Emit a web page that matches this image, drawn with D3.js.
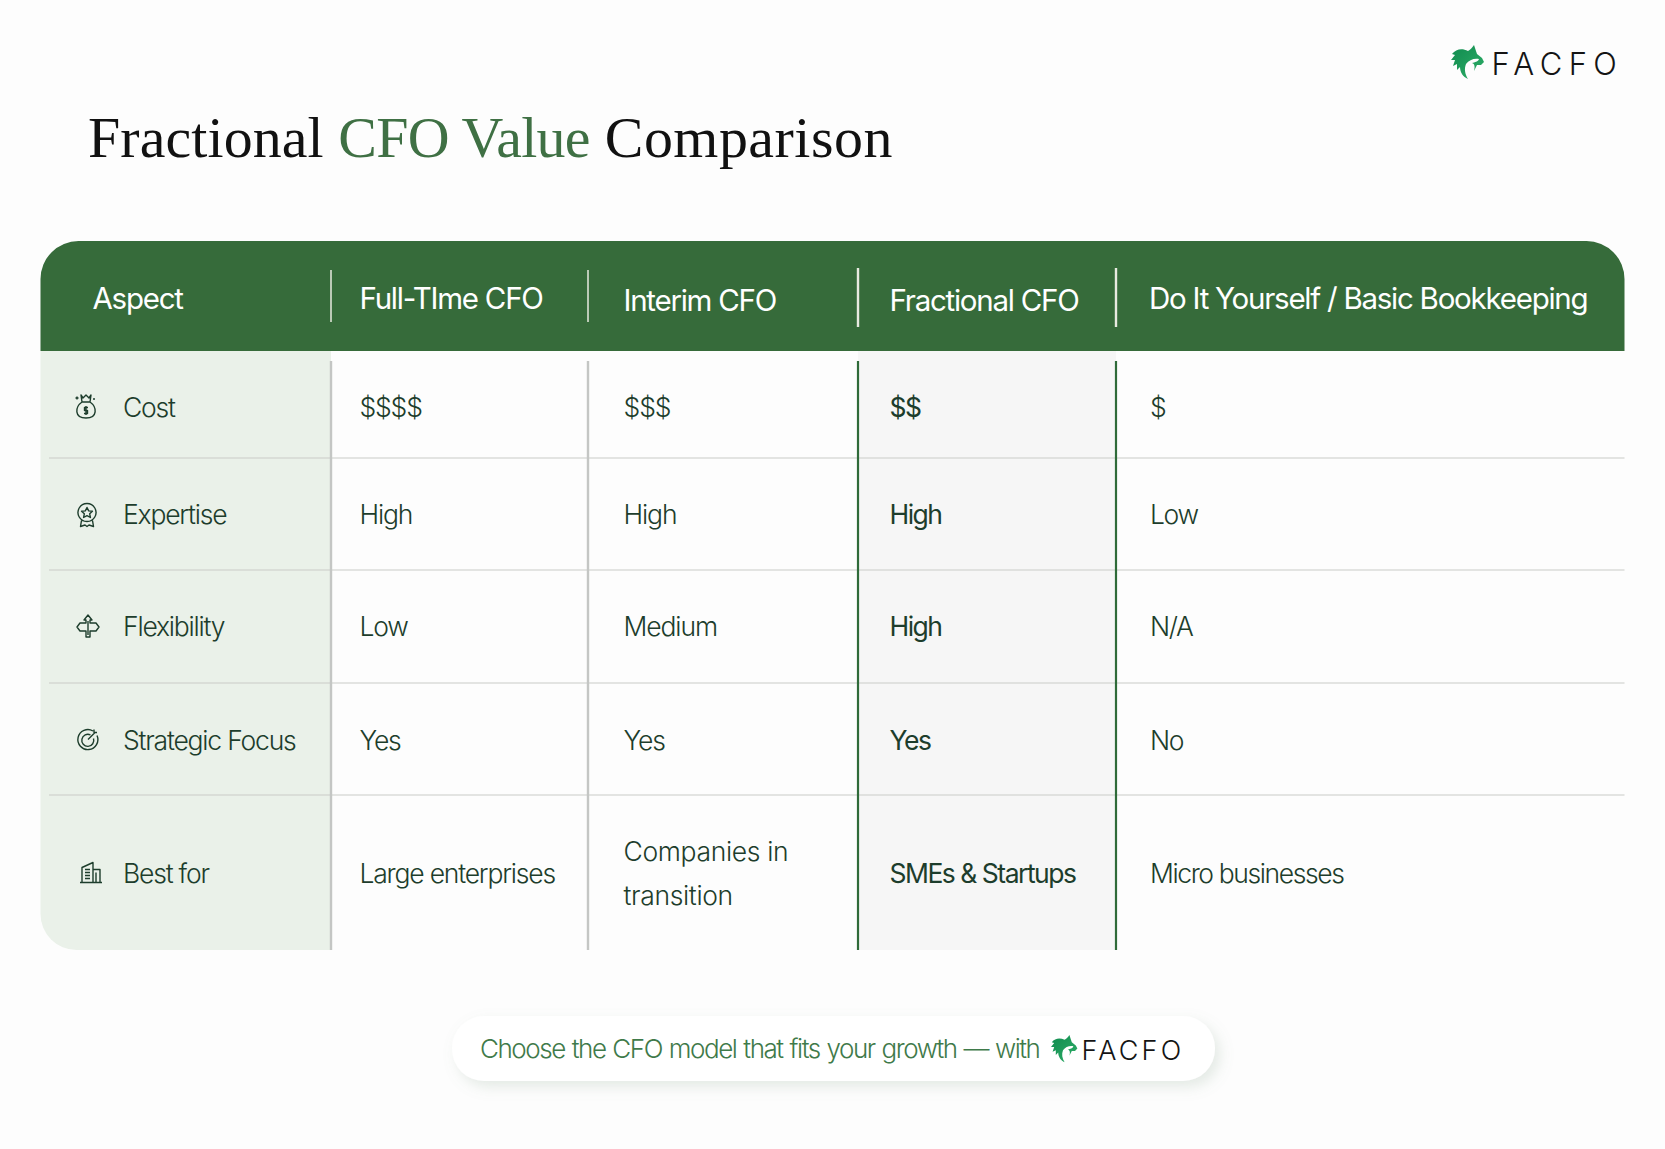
<!DOCTYPE html>
<html>
<head>
<meta charset="utf-8">
<script src="https://cdn.jsdelivr.net/npm/d3@7"></script>
<style>
  html, body { margin: 0; padding: 0; background: #fdfdfd; }
  svg { display: block; }
  text { font-family: Inter, "Noto Sans", sans-serif; }
</style>
</head>
<body>
<div id="chart"></div>
<script>
// table content
const titleParts = ["Fractional ", "CFO Value", " Comparison"];
const columns = ["Aspect", "Full-TIme CFO", "Interim CFO", "Fractional CFO", "Do It Yourself / Basic Bookkeeping"];
const aspects = ["Cost", "Expertise", "Flexibility", "Strategic Focus", "Best for"];
const fullTime = ["$$$$", "High", "Low", "Yes", "Large enterprises"];
const interim = ["$$$", "High", "Medium", "Yes", "Companies in\ntransition"];
const fractional = ["$$", "High", "High", "Yes", "SMEs & Startups"];
const diy = ["$", "Low", "N/A", "No", "Micro businesses"];
const footerText = "Choose the CFO model that fits your growth \u2014 with";
const brand = "FACFO";

const width = 1665, height = 1149;
const green = "#366b3a", ink = "#1d3d2c";

var svg = d3.select("#chart").append("svg")
  .attr("width", width).attr("height", height);
var defs = svg.append("defs");

var grad = defs.append("linearGradient").attr("id", "lynx")
  .attr("x1", "0").attr("y1", "0").attr("x2", "1").attr("y2", "1");
grad.append("stop").attr("offset", "0").attr("stop-color", "#0f8a4e");
grad.append("stop").attr("offset", "1").attr("stop-color", "#2fae68");

var blur = defs.append("filter").attr("id", "pillShadow")
  .attr("x", "-5%").attr("y", "-30%").attr("width", "110%").attr("height", "170%");
blur.append("feDropShadow").attr("dx", 5).attr("dy", 6).attr("stdDeviation", 7)
  .attr("flood-color", "#8aa58e").attr("flood-opacity", 0.22);

// column and row edges
var xEdge = d3.scaleOrdinal().domain(columns).range([40.5, 331, 588, 858, 1116]);
var xText = d3.scaleOrdinal().domain(columns).range([123, 359.5, 623.5, 889.5, 1150]);
var yTop = d3.scaleOrdinal().domain(aspects).range([351, 458, 570, 683, 795]);
var yMid = d3.scaleOrdinal().domain(aspects).range([408, 514.5, 627, 740.5, 873.5]);
var tableRight = 1624.5, tableBottom = 950;

// title
var titleTrack = [0.1, -0.7, 0.5];
var title = svg.append("text").attr("x", 88).attr("y", 157)
  .style("font-family", "'Liberation Serif', serif")
  .style("font-size", "57.9px").attr("fill", "#111");
title.selectAll("tspan").data(titleParts).join("tspan")
  .style("white-space", "pre")
  .style("letter-spacing", (d, i) => titleTrack[i] + "px")
  .attr("fill", (d, i) => i == 1 ? "#3f7044" : "#111")
  .text(d => d);

// body fills
svg.append("path").attr("fill", "#eaf1e9")
  .attr("d", `M${xEdge(columns[0])},351H${xEdge(columns[1])}V${tableBottom}H${xEdge(columns[0]) + 36}` +
    `A36,36 0 0 1 ${xEdge(columns[0])},${tableBottom - 36}Z`);
svg.append("rect").attr("fill", "#f6f6f6")
  .attr("x", xEdge(columns[3])).attr("y", 351)
  .attr("width", xEdge(columns[4]) - xEdge(columns[3])).attr("height", tableBottom - 351);

// header band
svg.append("path").attr("fill", green)
  .attr("d", `M40.5,351V${241 + 38}A38,38 0 0 1 ${40.5 + 38},241H${tableRight - 38}` +
    `A38,38 0 0 1 ${tableRight},${241 + 38}V351Z`);

// row rules
svg.selectAll(".rowline").data(aspects.slice(1)).join("line")
  .attr("class", "rowline")
  .attr("x1", 49).attr("x2", tableRight)
  .attr("y1", d => yTop(d)).attr("y2", d => yTop(d))
  .attr("stroke", "#c9cbc8").attr("stroke-width", 1.2);

// column rules
svg.selectAll(".colline").data(columns.slice(1)).join("line")
  .attr("class", "colline")
  .attr("x1", d => xEdge(d)).attr("x2", d => xEdge(d))
  .attr("y1", 361).attr("y2", tableBottom)
  .attr("stroke", (d, i) => i < 2 ? "#c4c6c4" : "#2f6b39")
  .attr("stroke-width", (d, i) => i < 2 ? 2.4 : 2.2);

// header dividers
svg.selectAll(".headline").data(columns.slice(1)).join("line")
  .attr("class", "headline")
  .attr("x1", d => xEdge(d)).attr("x2", d => xEdge(d))
  .attr("y1", (d, i) => i < 2 ? 270 : 268).attr("y2", (d, i) => i < 2 ? 322 : 327)
  .attr("stroke", "#e8eae0")
  .attr("stroke-width", (d, i) => i < 2 ? 1.5 : 2.4);

// header labels
var headerX = [92.5, 359.5, 623.5, 889.5, 1149];
var headerY = [299, 299, 301, 301, 299];
svg.selectAll(".head").data(columns).join("text")
  .attr("class", "head")
  .attr("x", (d, i) => headerX[i]).attr("y", (d, i) => headerY[i])
  .attr("dy", "0.35em")
  .attr("fill", "#fff")
  .style("font-size", "29.5px").style("letter-spacing", "-1.25px")
  .text(d => d);

// cell text
function cellText(values, col, fill, weight, track) {
  var g = svg.append("g");
  aspects.forEach((a, i) => {
    var lines = values[i].split("\n");
    var t = g.append("text")
      .attr("fill", fill)
      .style("font-size", "26.5px")
      .style("letter-spacing", (lines.length > 1 ? -0.35 : track) + "px")
      .style("font-weight", weight);
    lines.forEach((s, k) => {
      t.append("tspan")
        .attr("x", xText(col))
        .attr("y", yMid(a) + (k - (lines.length - 1) / 2) * 43.5)
        .attr("dy", "0.35em")
        .text(s);
    });
  });
}
cellText(aspects, columns[0], ink, 300, -1.2);
cellText(fullTime, columns[1], ink, 300, -1.2);
cellText(interim, columns[2], ink, 300, -1.1);
cellText(fractional, columns[3], ink, 400, -1.5);
cellText(diy, columns[4], ink, 300, -1.4);

// row icons, outline only
const iconPaths = [
  "M-5,-12 L-3,-9 L0,-12 L3,-9 L5,-12 L4,-5 H-4Z M-4,-5 C-11,0 -12,11 0,11 C12,11 11,0 4,-5 M0,-1V8 M2,0.5H-1.5V3.5H1.5V6.5H-2 M-10.5,-9H-7.5 M-9,-10.5V-7.5 M7,-8H9",
  "M0,-10 A9,9 0 1 0 0.01,-10 M0,-6 L1.7,-2.6 L5.4,-2.2 L2.7,0.3 L3.4,4 L0,2.2 L-3.4,4 L-2.7,0.3 L-5.4,-2.2 L-1.7,-2.6Z M-5.5,7 L-6.5,13 L-2,11.5 L0,13 L2,11.5 L6.5,13 L5.5,7",
  "M-2,11 V5 H-8 L-11,1 L-8,-3 H-2 V-6 H-4 L0,-11 L4,-6 H2 V-3 H8 L11,1 L8,5 H2 V11Z M0,-5V9",
  "M5,-8.5 A10,10 0 1 0 9,-4 M2.5,-4.5 A6,6 0 1 0 5.5,-1 M0,0 L7,-7 M6,-10 V-7 H9",
  "M-9,10 V-5 L2,-10 V10 M2,-3 H9 V10 M-11,10 H11 M-6,-3 H-1 M-6,0 H-1 M-6,3 H-1 M-6,6 H-1 M5,0 V10"
];
const iconX = [86, 87, 88, 88, 91];
svg.selectAll(".icon").data(aspects).join("path")
  .attr("class", "icon")
  .attr("transform", (d, i) => `translate(${iconX[i]},${yMid(d) - 1})`)
  .attr("d", (d, i) => iconPaths[i])
  .attr("fill", "none").attr("stroke", ink).attr("stroke-width", 1.4)
  .attr("stroke-linejoin", "round");

// footer pill
svg.append("rect").attr("x", 452).attr("y", 1016).attr("width", 763).attr("height", 65)
  .attr("rx", 32).attr("fill", "#fff").attr("filter", "url(#pillShadow)");
svg.append("text").attr("x", 480).attr("y", 1058)
  .attr("fill", "#3f7a4a")
  .style("font-size", "26px").style("font-weight", 300)
  .style("letter-spacing", "-1.45px").style("word-spacing", "1px")
  .text(footerText);

// lynx head logo
const lynx = "M23,0 L26,9 L31,13 L33,17 L30,20 L26,20 L23,26 C24,22 24,19 21,18 C24,17 27,17 28,14 C23,13 18,15 15,19 C13,24 14,29 17,34 C12,32 9,27 9,22 L6,25 L6,19 L2,21 L4,15 L0,15 L4,10 L1,9 C5,4 11,3 17,6 C19,5 21,3 23,0Z";
function drawBrand(x, y, s, tx, ty, fs, ls) {
  svg.append("path").attr("d", lynx)
    .attr("transform", `translate(${x},${y}) scale(${s})`)
    .attr("fill", "url(#lynx)");
  svg.append("text").attr("x", tx).attr("y", ty)
    .attr("fill", "#141414")
    .style("font-size", fs + "px").style("font-weight", 300).style("letter-spacing", ls + "px")
    .text(brand);
}
drawBrand(1451, 45, 1, 1491.5, 75, 31, 6.4);
drawBrand(1051, 1035, 0.8, 1081.5, 1060, 27, 3.2);
</script>
</body>
</html>
